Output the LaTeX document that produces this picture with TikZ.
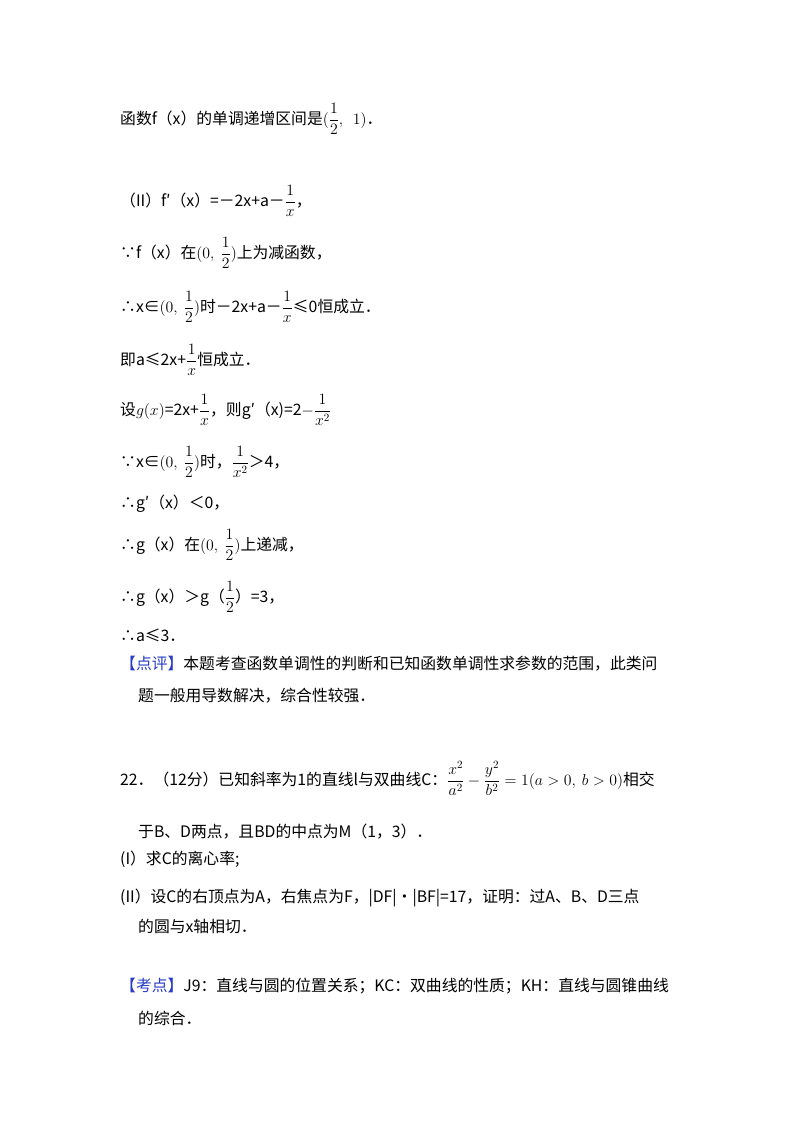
\documentclass[tikz,border=0pt]{standalone}
\usepackage{fix-cm}
\usepackage{amsmath,amssymb}
\usepackage{fontspec}
\setmainfont{Noto Sans CJK SC}
\definecolor{kb}{RGB}{40,60,200}
\newcommand{\fr}[2]{\dfrac{#1}{#2}}
\begin{document}
\begin{tikzpicture}[x=1pt,y=-1pt,t/.style={anchor=base west,inner sep=0,font=\fontsize{15.8}{18}\selectfont}]
\useasboundingbox[fill=white] (0,0) rectangle (800,1132);
\node[t] (l1) at (120,124) {函数f（x）的单调递增区间是$(\fr12,\ \ 1)$．};
\node[t] (l2) at (120,206) {（II）f′（x）=－2x+a－$\fr1{x}$，};
\node[t] (l3) at (120,258) {∵f（x）在$(0,\ \fr12)$上为减函数，};
\node[t] (l4) at (120,312) {∴x∈$(0,\ \fr12)$时－2x+a－$\fr1x$≤0恒成立．};
\node[t] (l5) at (120,365) {即a≤2x+$\fr1x$恒成立．};
\node[t] (l6) at (120,415) {设$g(x)$=2x+$\fr1x$，则g′（x)=2$-\fr{1}{x^2}$};
\node[t] (l7) at (120,467) {∵x∈$(0,\ \fr12)$时，$\fr1{x^2}$＞4，};
\node[t] (l8) at (120,508) {∴g′（x）＜0，};
\node[t] (l9) at (120,550) {∴g（x）在$(0,\ \fr12)$上递减，};
\node[t] (l10) at (120,602) {∴g（x）＞g（$\fr12$）=3，};
\node[t] (l11) at (120,641) {∴a≤3．};
\node[t] (l12) at (120,669) {\textcolor{kb}{【点评】}本题考查函数单调性的判断和已知函数单调性求参数的范围，此类问};
\node[t] (l13) at (138,701) {题一般用导数解决，综合性较强．};
\node[t] (l14) at (120,785) {22．（12分）已知斜率为1的直线l与双曲线C：$\fr{x^2}{a^2}-\fr{y^2}{b^2}=1(a>0,\ b>0)$相交};
\node[t] (l15) at (138,837) {于B、D两点，且BD的中点为M（1，3）．};
\node[t] (l16) at (120,864) {(I）求C的离心率;};
\node[t] (l17) at (120,902) {(II）设C的右顶点为A，右焦点为F，|DF|•|BF|=17，证明：过A、B、D三点};
\node[t] (l18) at (138,932) {的圆与x轴相切．};
\node[t] (l19) at (120,991) {\textcolor{kb}{【考点】}J9：直线与圆的位置关系；KC：双曲线的性质；KH：直线与圆锥曲线};
\node[t] (l20) at (138,1024) {的综合．};
\end{tikzpicture}
\end{document}
